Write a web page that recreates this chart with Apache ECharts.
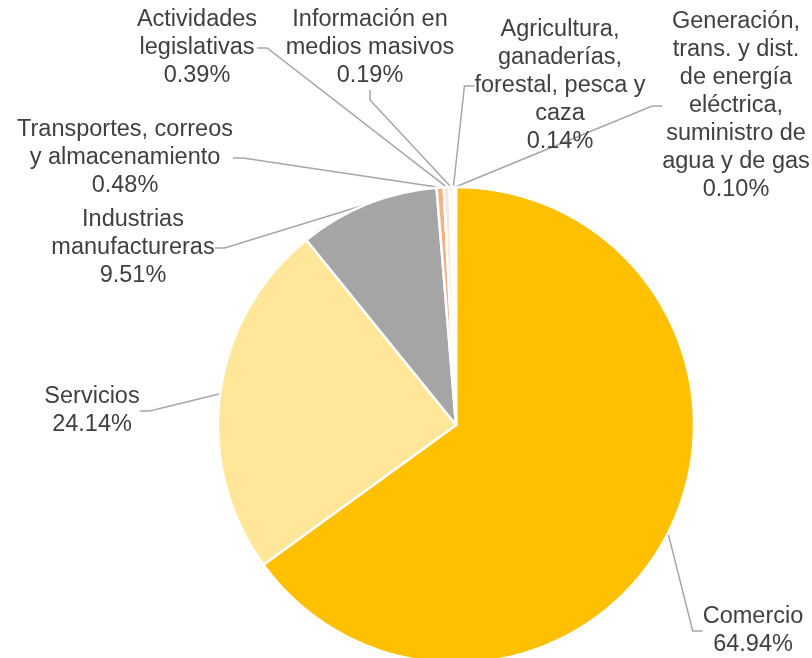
<!DOCTYPE html>
<html><head><meta charset="utf-8">
<script src="https://cdn.jsdelivr.net/npm/echarts@6/dist/echarts.min.js"></script>
<style>html,body{margin:0;padding:0;background:#fff}#c{width:812px;height:658px}</style>
</head><body><div id="c"></div>
<script>
const categories = [
  'Comercio',
  'Servicios',
  'Industrias\nmanufactureras',
  'Transportes, correos\ny almacenamiento',
  'Actividades\nlegislativas',
  'Información en\nmedios masivos',
  'Agricultura,\nganaderías,\nforestal, pesca y\ncaza',
  'Generación,\ntrans. y dist.\nde energía\neléctrica,\nsuministro de\nagua y de gas'
];
const values = [64.94, 24.14, 9.51, 0.48, 0.39, 0.19, 0.14, 0.10];
const colors = ['#FFC000', '#FFE699', '#A5A5A5', '#F4B183', '#FBE5D6', '#595959', '#DEEBF7', '#FFF2CC'];
const labelPos = [
  [753, 631], [92, 411], [133, 248], [125, 158], [197, 48], [370, 48], [560, 86], [736, 106]
];

const chart = echarts.init(document.getElementById('c'), null, {renderer: 'canvas'});
chart.setOption({
  animation: false,
  series: [{
    type: 'pie',
    center: [456, 425],
    radius: [0, 238],
    startAngle: 90,
    clockwise: true,
    data: categories.map((n, i) => ({name: n, value: values[i], itemStyle: {color: colors[i]}})),
    itemStyle: {borderColor: '#fff', borderWidth: 2.5},
    label: {
      show: true,
      position: 'outside',
      formatter: p => p.name + '\n' + p.value.toFixed(2) + '%',
      fontFamily: 'Liberation Sans, Arial, sans-serif',
      fontSize: 23.5,
      lineHeight: 28,
      color: '#404040',
      align: 'center',
      overflow: 'none'
    },
    labelLine: {show: true, length: 10, length2: 10, lineStyle: {color: '#A6A6A6', width: 1.5}},
    labelLayout: function (params) {
      const p = labelPos[params.dataIndex];
      return {x: p[0], y: p[1], align: 'center', verticalAlign: 'middle'};
    }
  }]
});
</script></body></html>
